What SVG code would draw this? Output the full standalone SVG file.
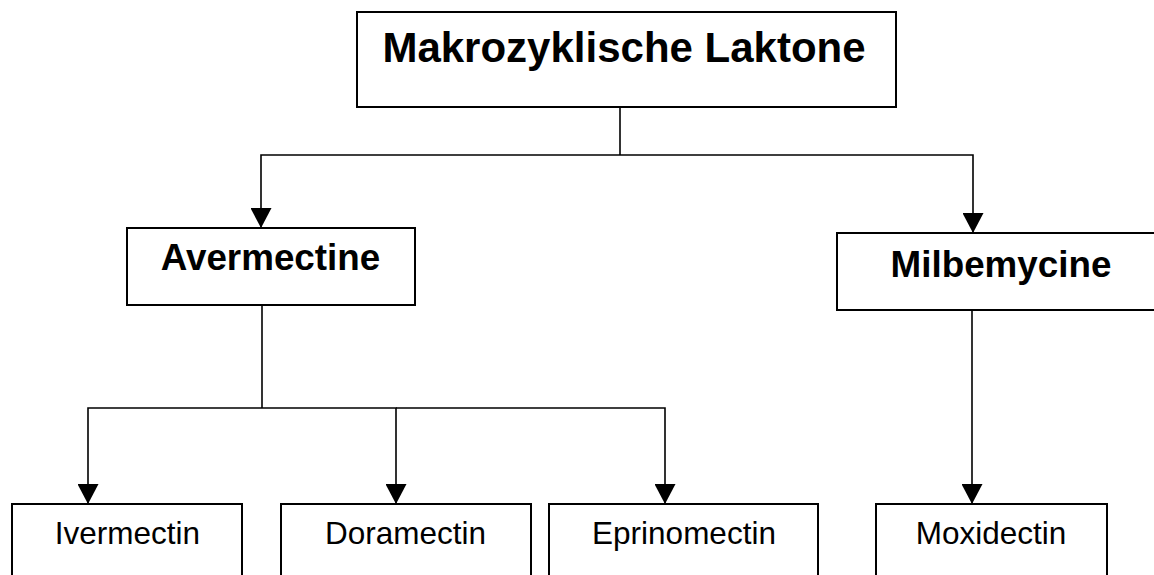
<svg xmlns="http://www.w3.org/2000/svg" width="1154" height="575" viewBox="0 0 1154 575">
  <style>
    .box { fill: #ffffff; stroke: #000000; stroke-width: 2; }
    .conn { fill: none; stroke: #000000; stroke-width: 1.6; }
    .title { font-family: "Liberation Sans", Arial, sans-serif; font-weight: bold; fill: #000000; text-anchor: middle; }
    .leaf { font-family: "Liberation Sans", Arial, sans-serif; font-size: 31.5px; fill: #000000; text-anchor: middle; }
  </style>
  <defs>
    <marker id="arrow" markerUnits="userSpaceOnUse" viewBox="0 0 20 21" refX="20" refY="10.5" markerWidth="20" markerHeight="21" orient="auto">
      <path d="M0,0 L20,10.5 L0,21 z" fill="#000000"/>
    </marker>
  </defs>
  <rect width="1154" height="575" fill="#ffffff"/>

  <g id="connectors">
    <path class="conn" d="M620,107 L620,155"/>
    <path class="conn" d="M620,155 L261,155 L261,228" marker-end="url(#arrow)"/>
    <path class="conn" d="M620,155 L973,155 L973,233" marker-end="url(#arrow)"/>
    <path class="conn" d="M262,305 L262,408"/>
    <path class="conn" d="M262,408 L88,408 L88,504" marker-end="url(#arrow)"/>
    <path class="conn" d="M262,408 L396,408 L396,504" marker-end="url(#arrow)"/>
    <path class="conn" d="M396,408 L665,408 L665,504" marker-end="url(#arrow)"/>
    <path class="conn" d="M972,310 L972,504" marker-end="url(#arrow)"/>
  </g>

  <g id="node-makrozyklische-laktone">
    <rect class="box" x="357" y="12" width="539" height="95"/>
    <text class="title" x="624" y="62" font-size="42">Makrozyklische Laktone</text>
  </g>

  <g id="node-avermectine">
    <rect class="box" x="127" y="228" width="288" height="77"/>
    <text class="title" x="270.5" y="270" font-size="36.8">Avermectine</text>
  </g>

  <g id="node-milbemycine">
    <rect class="box" x="837" y="233" width="330" height="77"/>
    <text class="title" x="1001" y="277" font-size="36.8">Milbemycine</text>
  </g>

  <g id="node-ivermectin">
    <rect class="box" x="12" y="504" width="230" height="80"/>
    <text class="leaf" x="127.5" y="544">Ivermectin</text>
  </g>

  <g id="node-doramectin">
    <rect class="box" x="281" y="504" width="250" height="80"/>
    <text class="leaf" x="405.5" y="544">Doramectin</text>
  </g>

  <g id="node-eprinomectin">
    <rect class="box" x="549" y="504" width="269" height="80"/>
    <text class="leaf" x="684" y="544">Eprinomectin</text>
  </g>

  <g id="node-moxidectin">
    <rect class="box" x="876" y="504" width="231" height="80"/>
    <text class="leaf" x="991" y="544">Moxidectin</text>
  </g>
</svg>
